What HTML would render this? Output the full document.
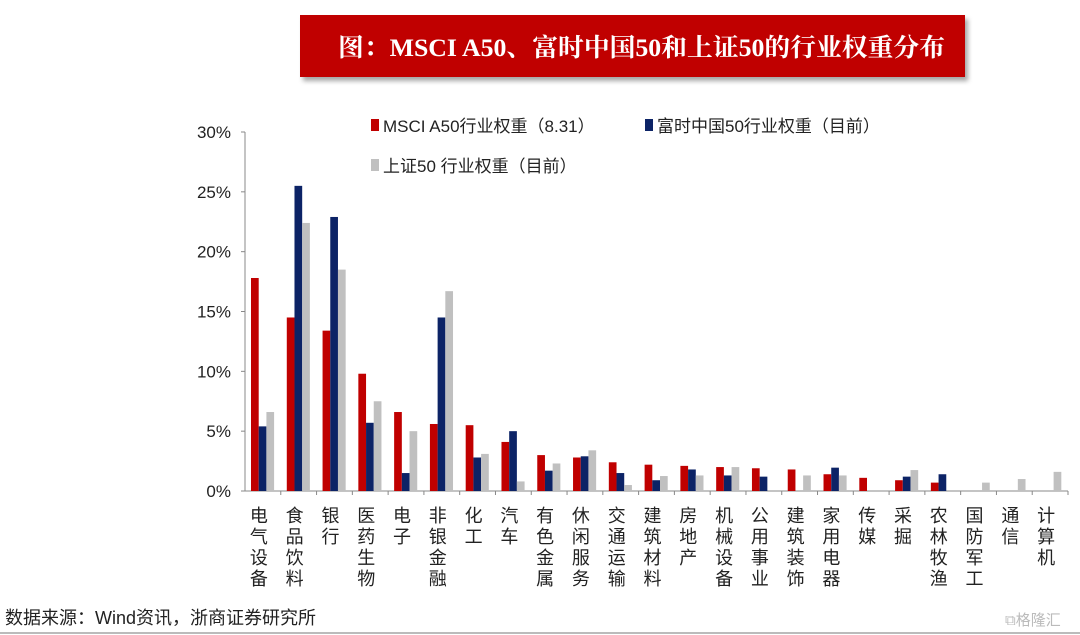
<!DOCTYPE html>
<html><head><meta charset="utf-8"><style>
body{margin:0;width:1080px;height:635px;background:#fff;overflow:hidden;font-family:"Liberation Sans","Noto Sans CJK SC",sans-serif;}
svg{position:absolute;left:0;top:0}
</style></head><body>
<svg id="c" width="1080" height="635">
<defs><filter id="sh" x="-5%" y="-20%" width="115%" height="160%"><feDropShadow dx="3" dy="4" stdDeviation="2.5" flood-color="#000" flood-opacity="0.35"/></filter></defs>
<rect x="300" y="15" width="665" height="62" fill="#c00000" filter="url(#sh)"/>
<text x="338" y="56" fill="#fff" font-family="'Liberation Serif','Noto Serif CJK SC',serif" font-weight="bold" font-size="25" textLength="607" lengthAdjust="spacingAndGlyphs">图：MSCI A50、富时中国50和上证50的行业权重分布</text>
<g id="axes"></g><g id="bars"></g><g id="labels"></g>
<rect x="371" y="119" width="8" height="12" fill="#c00000"/>
<text x="383" y="132" font-size="17" fill="#222">MSCI A50行业权重（8.31）</text>
<rect x="645" y="119" width="8" height="12" fill="#0c2366"/>
<text x="657" y="132" font-size="17" fill="#222">富时中国50行业权重（目前）</text>
<rect x="371" y="159" width="8" height="12" fill="#c0c0c0"/>
<text x="383" y="172" font-size="17" fill="#222">上证50 行业权重（目前）</text>
<text x="5" y="624" font-size="18" fill="#222">数据来源：Wind资讯，浙商证券研究所</text>
<line x1="0" y1="633" x2="1080" y2="633" stroke="#bbb" stroke-width="2"/>
<text x="1005" y="625" font-size="15" fill="#bbb">⧉格隆汇</text>
</svg>
<script>
const categories=["电气设备","食品饮料","银行","医药生物","电子","非银金融","化工","汽车","有色金属","休闲服务","交通运输","建筑材料","房地产","机械设备","公用事业","建筑装饰","家用电器","传媒","采掘","农林牧渔","国防军工","通信","计算机"];
const msci=[17.8,14.5,13.4,9.8,6.6,5.6,5.5,4.1,3.0,2.8,2.4,2.2,2.1,2.0,1.9,1.8,1.4,1.1,0.9,0.7,0,0,0];
const ftse=[5.4,25.5,22.9,5.7,1.5,14.5,2.8,5.0,1.7,2.9,1.5,0.9,1.8,1.3,1.2,0,1.95,0,1.2,1.4,0,0,0];
const sse=[6.6,22.4,18.5,7.5,5.0,16.7,3.1,0.8,2.3,3.4,0.5,1.25,1.3,2.0,0,1.3,1.3,0,1.75,0,0.7,1.0,1.6];
const yTicks=[0,5,10,15,20,25,30];
const NS="http://www.w3.org/2000/svg";
const x0=245,x1=1068,yb=491,yt=132,ymax=30;
const gw=(x1-x0)/categories.length;
const y=v=>yb-(v/ymax)*(yb-yt);
function mk(tag,attrs,parent){const e=document.createElementNS(NS,tag);for(const k in attrs)e.setAttribute(k,attrs[k]);document.getElementById(parent).appendChild(e);return e;}
let a=mk("line",{x1:x0,y1:yt,x2:x0,y2:yb,stroke:"#888"},"axes");


a=mk("line",{x1:x0,y1:yb,x2:x1,y2:yb,stroke:"#888"},"axes");


yTicks.forEach(t=>{
 const l=mk("line",{x1:x0-4,x2:x0,y1:y(t),y2:y(t),stroke:"#888"},"axes");
 
 
 const tx=mk("text",{x:x0-14,y:y(t)+6,"text-anchor":"end","font-size":"17",fill:"#222"},"axes");
 tx.textContent=t+"%";
 
 
});
const series=[[msci,"#c00000","msci"],[ftse,"#0c2366","ftse"],[sse,"#c0c0c0","sse"]];
const bw=7.7;
categories.forEach((c,i)=>{
 const gx=x0+i*gw;
 const tk=mk("line",{x1:gx+gw,x2:gx+gw,y1:yb,y2:yb+4,stroke:"#888"},"axes");
 
 
 series.forEach((s,j)=>{
  const v=s[0][i]; if(!v) return;
  const r=mk("rect",{x:gx+6+j*bw,y:y(v),width:bw,height:yb-y(v),fill:s[1]},"bars");
  
  
 });
 [...c].forEach((ch,k)=>{
  const t=mk("text",{x:gx+gw/2-4,y:yb+31+k*21,"text-anchor":"middle","font-size":"18",fill:"#222"},"labels");
  t.textContent=ch;
  
  
 });
});
</script>
</body></html>
